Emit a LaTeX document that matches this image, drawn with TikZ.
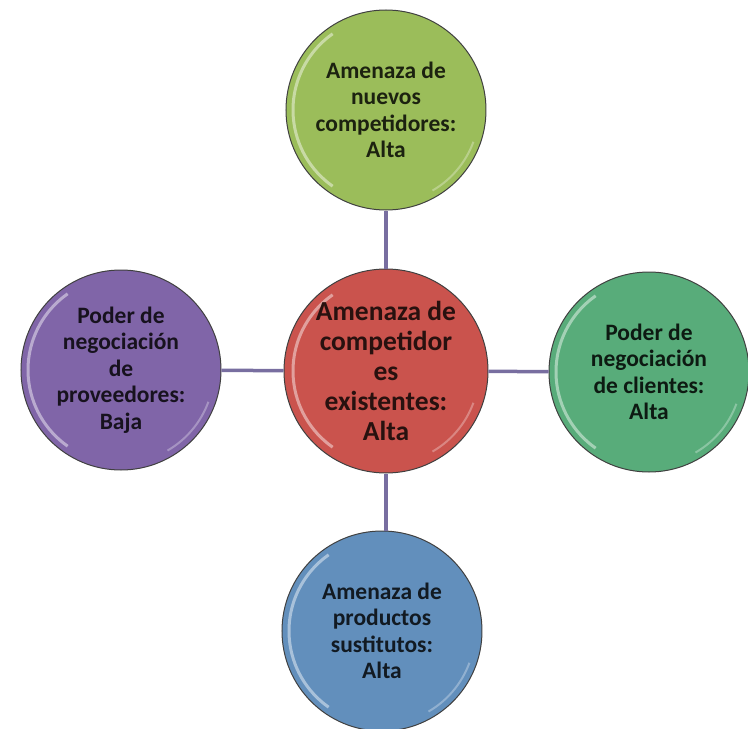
\documentclass[tikz,border=0pt]{standalone}
\usepackage{fontspec}
\setmainfont{Carlito}
\usetikzlibrary{positioning}

\definecolor{greentop}{RGB}{155,189,90}
\definecolor{redmid}{RGB}{202,83,77}
\definecolor{purpleleft}{RGB}{128,101,168}
\definecolor{greenright}{RGB}{88,172,122}
\definecolor{bluebottom}{RGB}{98,143,188}
\definecolor{linkcolor}{RGB}{120,110,160}

\tikzset{
    force/.style={circle, draw=black!75, line width=1pt, minimum size=200pt, inner sep=0pt,
        align=center, font=\bfseries\fontsize{23.5}{26.5}\selectfont,
        path picture={
            \draw[white, opacity=0.45, line width=3pt]
                ([shift={(125:93pt)}]path picture bounding box.center)
                arc[start angle=125, end angle=235, radius=93pt];
            \draw[white, opacity=0.3, line width=2pt]
                ([shift={(-60:93pt)}]path picture bounding box.center)
                arc[start angle=-60, end angle=-20, radius=93pt];
        }},
    link/.style={linkcolor, line width=3.5pt}
}

\begin{document}
\begin{tikzpicture}
        \useasboundingbox (-386pt,-358pt) rectangle (362pt,371pt);

        % Central force
        \node[force, fill=redmid, text=redmid!20!black, minimum size=204pt,
              font=\bfseries\fontsize{27.5}{30}\selectfont] (rivalry) at (0,0)
            {Amenaza de\\competidor\\es\\existentes:\\Alta};

        % The four other forces
        \node[force, fill=greentop, text=greentop!18!black, above=58pt of rivalry] (entrants)
            {Amenaza de\\nuevos\\competidores:\\Alta};
        \node[force, fill=purpleleft, text=purpleleft!18!black, left=62pt of rivalry, yshift=1pt] (suppliers)
            {Poder de\\negociación\\de\\proveedores:\\Baja};
        \node[force, fill=greenright, text=greenright!15!black, right=60pt of rivalry, yshift=-1pt] (buyers)
            {Poder de\\negociación\\de clientes:\\Alta};
        \node[force, fill=bluebottom, text=bluebottom!18!black, below=57pt of rivalry, xshift=-4pt] (substitutes)
            {Amenaza de\\productos\\sustitutos:\\Alta};

        % Connectors
        \draw[link] (rivalry) -- (entrants);
        \draw[link] (rivalry) -- (suppliers);
        \draw[link] (rivalry) -- (buyers);
        \draw[link] (rivalry.south) -- (rivalry.south |- substitutes.north);
\end{tikzpicture}
\end{document}
